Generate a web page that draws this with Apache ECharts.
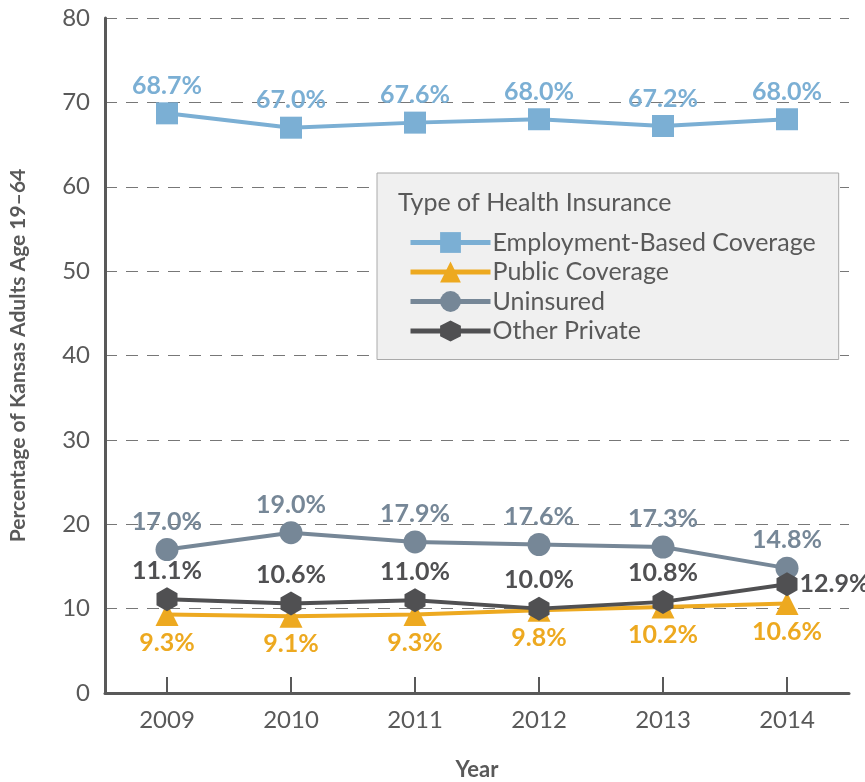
<!DOCTYPE html>
<html lang="en">
<head>
  <meta charset="UTF-8">
  <title>Kansas Health Insurance</title>
  <style>
    html, body { margin: 0; padding: 0; background: #fff; }
  </style>
</head>
<body>
<div id="main" style="width: 865px;height: 782px"></div>
<script type="text/javascript" src="https://cdn.jsdelivr.net/npm/echarts@6/dist/echarts.min.js"></script>

<script>
var years = ['2009', '2010', '2011', '2012', '2013', '2014'];
var employment = [68.7, 67.0, 67.6, 68.0, 67.2, 68.0];
var publicCov = [9.3, 9.1, 9.3, 9.8, 10.2, 10.6];
var uninsured = [17.0, 19.0, 17.9, 17.6, 17.3, 14.8];
var otherPrivate = [11.1, 10.6, 11.0, 10.0, 10.8, 12.9];

var hexagon = 'path://M0,-1L0.866,-0.5L0.866,0.5L0,1L-0.866,0.5L-0.866,-0.5Z';
var txt = '#595959';
var font = 'Lato';

function pct(p) { return p.value.toFixed(1) + '%'; }

function mkSeries(name, data, color, symbol, size, pos) {
  return {
    name: name,
    type: 'line',
    data: data,
    symbol: symbol,
    symbolSize: size,
    showAllSymbol: true,
    lineStyle: { color: color, width: 4 },
    itemStyle: { color: color },
    label: {
      show: true,
      position: pos,
      distance: 4,
      formatter: pct,
      color: color,
      fontFamily: font,
      fontWeight: 'bold',
      fontSize: 25
    },
    emphasis: { disabled: true }
  };
}

var other = mkSeries('Other Private', otherPrivate, '#505052', hexagon, [21, 24], 'top');
// last label sits to the right of the point
other.data = otherPrivate.map(function (v, i) {
  if (i === otherPrivate.length - 1) {
    return { value: v, label: { position: 'right', distance: 2 } };
  }
  return v;
});

var option = {
  animation: false,
  textStyle: { fontFamily: font },
  title: {
    text: 'Type of Health Insurance',
    left: 393,
    top: 185,
    z: 10,
    textStyle: { color: txt, fontFamily: font, fontWeight: 'normal', fontSize: 25 }
  },
  legend: {
    orient: 'vertical',
    left: 377,
    top: 173,
    padding: [57, 23, 16, 31],
    backgroundColor: '#f0f0f0',
    borderColor: '#aaaaaa',
    borderWidth: 1,
    itemWidth: 80,
    itemHeight: 26,
    itemGap: 4.5,
    lineStyle: { width: 5 },
    textStyle: { color: txt, fontFamily: font, fontSize: 25, padding: [0, 0, 0, -3] },
    data: ['Employment-Based Coverage', 'Public Coverage', 'Uninsured', 'Other Private']
  },
  grid: { left: 105, right: 16, top: 18, bottom: 89, outerBoundsMode: 'none' },
  xAxis: {
    type: 'category',
    data: years,
    boundaryGap: true,
    name: 'Year',
    nameLocation: 'middle',
    nameGap: 66,
    nameTextStyle: { color: txt, fontFamily: font, fontWeight: 'bold', fontSize: 22 },
    axisLine: { lineStyle: { color: txt, width: 3 } },
    axisTick: { show: true, inside: true, alignWithLabel: true, length: 16, lineStyle: { color: txt, width: 2 } },
    axisLabel: { color: txt, fontFamily: font, fontSize: 24, margin: 15 }
  },
  yAxis: {
    type: 'value',
    min: 0,
    max: 80,
    interval: 10,
    name: 'Percentage of Kansas Adults Age 19\u201364',
    nameLocation: 'middle',
    nameGap: 76,
    nameTextStyle: { color: txt, fontFamily: font, fontWeight: 'bold', fontSize: 21 },
    axisLine: { show: true, lineStyle: { color: txt, width: 3 } },
    axisTick: { show: false },
    axisLabel: { color: txt, fontFamily: font, fontSize: 24, margin: 15 },
    splitLine: { lineStyle: { color: '#777777', width: 1, type: [12, 9] } }
  },
  series: [
    mkSeries('Employment-Based Coverage', employment, '#7bafd4', 'rect', 22, 'top'),
    mkSeries('Public Coverage', publicCov, '#eda920', 'triangle', 23, 'bottom'),
    mkSeries('Uninsured', uninsured, '#768797', 'circle', 23, 'top'),
    other
  ]
};

var myChart = echarts.init(document.getElementById('main'));
myChart.setOption(option);
</script>
</body>
</html>
